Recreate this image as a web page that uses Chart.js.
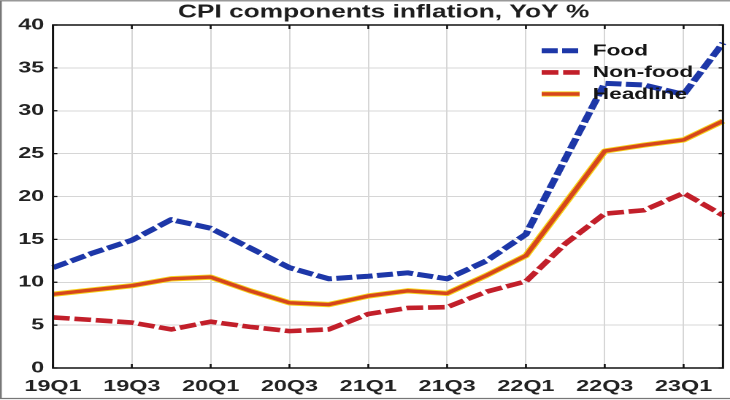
<!DOCTYPE html>
<html><head><meta charset="utf-8">
<script src="https://cdn.jsdelivr.net/npm/chart.js@4"></script>
<style>html,body{margin:0;padding:0;background:#fff;} #wrap{width:730px;height:400px;overflow:hidden;position:relative;}</style>
</head><body>
<div id="wrap"><canvas id="c" width="500" height="400" style="width:730px;height:400px;display:block"></canvas></div>
<script>
// ---- data ----
const quarters = ['19Q1','19Q2','19Q3','19Q4','20Q1','20Q2','20Q3','20Q4','21Q1','21Q2','21Q3','21Q4','22Q1','22Q2','22Q3','22Q4','23Q1','23Q2'];
const food     = [11.7, 13.4, 14.9, 17.3, 16.3, 14.0, 11.7, 10.4, 10.7, 11.1, 10.4, 12.5, 15.6, 24.4, 33.2, 33.0, 31.9, 37.9];
const nonFood  = [5.9, 5.6, 5.3, 4.5, 5.4, 4.8, 4.3, 4.5, 6.3, 7.0, 7.1, 8.9, 10.1, 14.5, 18.0, 18.4, 20.4, 17.8];
const headline = [8.6, 9.1, 9.6, 10.4, 10.6, 9.0, 7.6, 7.4, 8.4, 9.0, 8.7, 10.8, 13.1, 19.2, 25.3, 26.0, 26.6, 28.8];
const yMin = 0, yMax = 40, yStep = 5;
const titleText = 'CPI components inflation, YoY %';
const seriesNames = ['Food', 'Non-food', 'Headline'];

const FONT = "'Liberation Sans', Arial, Helvetica, sans-serif";
const BLUE = '#1d37a8', RED = '#c21f2a', ORANGE = '#d6461c', YELLOW = '#f5d11c';

const titlePlugin = {
  id: 'titlePlugin',
  afterDraw(chart) {
    const ctx = chart.ctx, a = chart.chartArea;
    ctx.save();
    ctx.font = 'bold 18px ' + FONT;
    ctx.fillStyle = '#1e1e1e';
    ctx.textAlign = 'center';
    ctx.textBaseline = 'middle';
    ctx.fillText(titleText, (a.left + a.right) / 2 - 3, 12.5);
    ctx.restore();
  }
};

const framePlugin = {
  id: 'framePlugin',
  afterDatasetsDraw(chart) {
    const ctx = chart.ctx, a = chart.chartArea;
    const xs = chart.scales.x, ys = chart.scales.y;
    ctx.save();
    ctx.strokeStyle = '#111';
    ctx.lineWidth = 1.5;
    ctx.strokeRect(a.left, a.top, a.right - a.left, a.bottom - a.top);
    ctx.lineWidth = 1.3;
    ctx.beginPath();
    xs.ticks.forEach((t, i) => {
      if (i % 2 !== 0) return;
      const x = xs.getPixelForTick(i);
      ctx.moveTo(x, a.bottom); ctx.lineTo(x, a.bottom - 4);
      ctx.moveTo(x, a.top); ctx.lineTo(x, a.top + 4);
    });
    ys.ticks.forEach((t, i) => {
      const y = ys.getPixelForTick(i);
      ctx.moveTo(a.left, y); ctx.lineTo(a.left + 3, y);
      ctx.moveTo(a.right, y); ctx.lineTo(a.right - 3, y);
    });
    ctx.stroke();
    // outer image border (top, left, bottom)
    ctx.strokeStyle = '#777';
    ctx.lineWidth = 1.2;
    ctx.beginPath();
    ctx.moveTo(chart.width, 0.8); ctx.lineTo(0.6, 0.8); ctx.lineTo(0.6, chart.height - 1.5); ctx.lineTo(chart.width, chart.height - 1.5);
    ctx.stroke();
    ctx.restore();
  },
  afterDraw(chart) {
    // legend inside the plot area, top right
    const ctx = chart.ctx;
    const rows = [50.7, 72.4, 94];
    const items = [
      {ds: chart.data.datasets[0]},
      {ds: chart.data.datasets[1]},
      {ds: chart.data.datasets[2], under: chart.data.datasets[3]}
    ];
    ctx.save();
    items.forEach((it, i) => {
      const y = rows[i];
      const draw = (ds) => {
        ctx.beginPath();
        ctx.setLineDash(ds.borderDash || []);
        ctx.lineWidth = ds.borderWidth;
        ctx.strokeStyle = ds.borderColor;
        ctx.moveTo(371, y); ctx.lineTo(397, y);
        ctx.stroke();
      };
      if (it.under) draw(it.under);
      draw(it.ds);
      ctx.setLineDash([]);
      ctx.font = 'bold 15.5px ' + FONT;
      ctx.fillStyle = '#151515';
      ctx.textAlign = 'left';
      ctx.textBaseline = 'middle';
      ctx.fillText(it.ds.label, 406, y + 0.5);
    });
    ctx.restore();
  }
};

new Chart(document.getElementById('c'), {
  type: 'line',
  data: {
    labels: quarters,
    datasets: [
      { label: seriesNames[0], data: food, borderColor: BLUE, borderWidth: 5, borderDash: [11, 3] },
      { label: seriesNames[1], data: nonFood, borderColor: RED, borderWidth: 4.6, borderDash: [11.5, 3.2] },
      { label: seriesNames[2], data: headline, borderColor: ORANGE, borderWidth: 3.4 },
      { label: seriesNames[2] + ' edge', data: headline, borderColor: YELLOW, borderWidth: 5.3 }
    ]
  },
  options: {
    responsive: false,
    devicePixelRatio: 2,
    animation: false,
    events: [],
    layout: { padding: { top: 25, right: 4.8, left: 0, bottom: 0 } },
    elements: {
      point: { radius: 0 },
      line: { tension: 0, fill: false, borderJoinStyle: 'round', borderCapStyle: 'butt' }
    },
    plugins: { legend: { display: false }, title: { display: false }, tooltip: { enabled: false } },
    scales: {
      x: {
        type: 'category',
        offset: false,
        grid: {
          offset: false,
          drawTicks: false,
          color: (c) => (c.index % 2 === 0 ? '#d6d6d6' : 'rgba(0,0,0,0)'),
          lineWidth: 1
        },
        border: { display: false },
        ticks: {
          autoSkip: false, maxRotation: 0, minRotation: 0, padding: 9,
          color: '#222',
          font: { family: FONT, size: 16, weight: 'bold' },
          callback: (v, i) => (i % 2 === 0 ? quarters[i] : '')
        },
        afterFit: (s) => { s.height = 32; s.paddingRight = 0; }
      },
      y: {
        min: yMin, max: yMax,
        grid: { drawTicks: false, color: '#d6d6d6', lineWidth: 1 },
        border: { display: false },
        ticks: {
          stepSize: yStep, padding: 6,
          color: '#222',
          font: { family: FONT, size: 16, weight: 'bold' }
        },
        afterFit: (s) => { s.width = 36.3; }
      }
    }
  },
  plugins: [titlePlugin, framePlugin]
});
</script>
</body></html>
